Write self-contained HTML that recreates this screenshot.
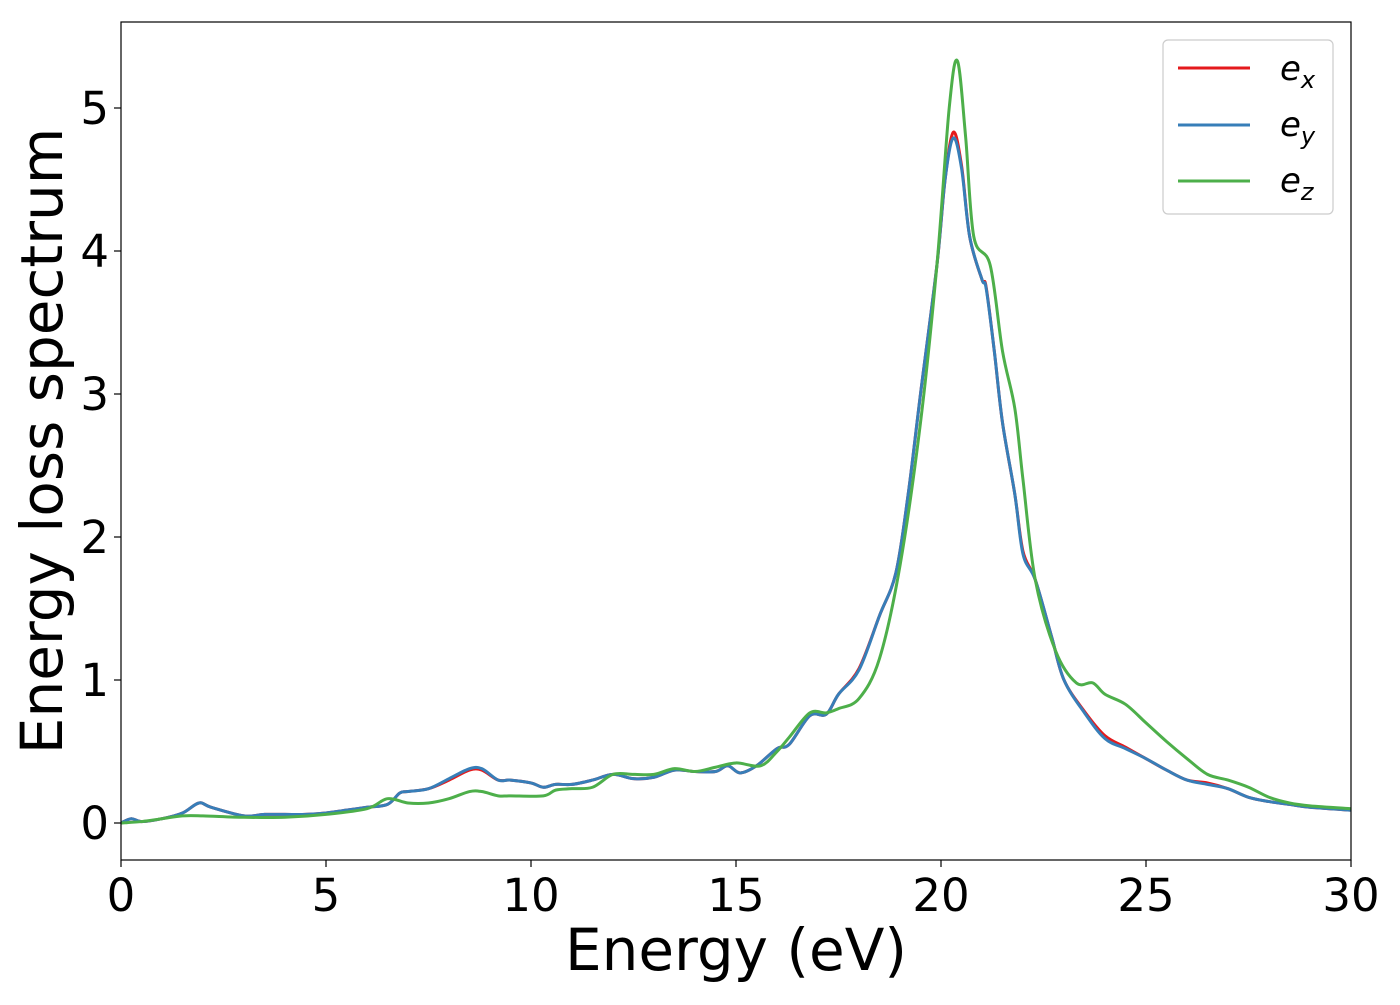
<!DOCTYPE html>
<html><head><meta charset="utf-8"><style>
body{margin:0;background:#fff;}
svg{font-family:"DejaVu Sans","Liberation Sans",sans-serif;}
</style></head><body>
<svg id="chart" width="1400" height="1000">
<rect x="0" y="0" width="1400" height="1000" fill="#fff"/>
<g id="plot"></g>
<g id="axes"></g>
</svg>
<script>
const exE=[0,0.25,0.5,1,1.5,1.9,2.2,3,3.5,4,4.5,5,5.5,6,6.5,6.8,7,7.5,8,8.5,8.8,9.2,9.5,10,10.3,10.6,11,11.5,12,12.5,13,13.5,14,14.5,14.8,15.1,15.5,16,16.3,16.8,17.2,17.5,18,18.5,18.9,19.2,19.5,19.9,20.1,20.3,20.5,20.7,21,21.1,21.3,21.5,21.8,22,22.3,22.7,23,23.5,24,24.5,25,25.5,26,26.5,27,27.5,28,28.5,29,30];
const exV=[0,0.03,0.01,0.03,0.07,0.14,0.11,0.05,0.06,0.06,0.06,0.07,0.09,0.11,0.13,0.21,0.22,0.24,0.3,0.37,0.37,0.3,0.3,0.28,0.25,0.27,0.27,0.3,0.34,0.31,0.32,0.37,0.36,0.36,0.4,0.35,0.4,0.52,0.55,0.75,0.76,0.9,1.08,1.45,1.75,2.3,3.0,3.9,4.5,4.83,4.6,4.1,3.8,3.75,3.3,2.8,2.3,1.9,1.7,1.3,1.0,0.78,0.61,0.53,0.45,0.37,0.3,0.28,0.24,0.18,0.15,0.13,0.11,0.09];
const eyV=[0,0.03,0.01,0.03,0.07,0.14,0.11,0.05,0.06,0.06,0.06,0.07,0.09,0.11,0.13,0.21,0.22,0.24,0.31,0.38,0.38,0.3,0.3,0.28,0.25,0.27,0.27,0.3,0.34,0.31,0.32,0.37,0.36,0.36,0.4,0.35,0.4,0.52,0.55,0.75,0.76,0.9,1.07,1.45,1.75,2.3,3.0,3.9,4.5,4.79,4.58,4.1,3.8,3.74,3.3,2.8,2.3,1.88,1.7,1.3,1.0,0.77,0.59,0.52,0.45,0.37,0.3,0.27,0.24,0.18,0.15,0.13,0.11,0.09];
const ezE=[0,0.5,1,1.5,2,3,4,5,6,6.5,7,7.5,8,8.5,8.8,9.2,9.5,10.3,10.6,11,11.5,12,12.5,13,13.5,14,14.5,15,15.6,16,16.3,16.8,17.2,17.5,18,18.5,19,19.5,19.9,20.2,20.4,20.6,20.8,21.2,21.5,21.8,22,22.3,22.8,23.3,23.7,24,24.5,25,25.5,26,26.5,27,27.5,28,28.5,29,30];
const ezV=[0,0.01,0.03,0.05,0.05,0.04,0.04,0.06,0.1,0.17,0.14,0.14,0.17,0.22,0.22,0.19,0.19,0.19,0.23,0.24,0.25,0.34,0.34,0.34,0.38,0.36,0.39,0.42,0.4,0.5,0.6,0.77,0.77,0.8,0.87,1.15,1.8,2.8,3.9,5.0,5.33,4.8,4.1,3.9,3.3,2.9,2.4,1.7,1.2,0.98,0.98,0.9,0.83,0.7,0.57,0.45,0.34,0.3,0.25,0.18,0.14,0.12,0.1];
const xTicks=[0,5,10,15,20,25,30];
const yTicks=[0,1,2,3,4,5];
const L=121,R=1351,T=22,B=860;
const X=v=>L+(v-0)/30*(R-L);
const Y=v=>823-v*143;
const NS='http://www.w3.org/2000/svg';
const plot=document.getElementById('plot'),axes=document.getElementById('axes');
function mk(tag,attrs,parent){const e=document.createElementNS(NS,tag);for(const k in attrs)e.setAttribute(k,attrs[k]);parent.appendChild(e);return e;}
function smooth(pts){
  let d='M'+pts[0][0]+','+pts[0][1];
  for(let i=0;i<pts.length-1;i++){
    const p0=pts[Math.max(0,i-1)],p1=pts[i],p2=pts[i+1],p3=pts[Math.min(pts.length-1,i+2)];
    const c1x=p1[0]+(p2[0]-p0[0])/6,c1y=p1[1]+(p2[1]-p0[1])/6;
    const c2x=p2[0]-(p3[0]-p1[0])/6,c2y=p2[1]-(p3[1]-p1[1])/6;
    d+=' C'+c1x+','+c1y+' '+c2x+','+c2y+' '+p2[0]+','+p2[1];
  }
  return d;
}
function line(xs,ys,color,name){
  const p=mk('path',{d:smooth(xs.map((x,i)=>[X(x),Y(ys[i])])),fill:'none',stroke:color,'stroke-width':3,'stroke-linejoin':'round'},plot);
  
  
}
line(exE,exV,'#e41a1c','series-ex');
line(exE,eyV,'#377eb8','series-ey');
line(ezE,ezV,'#4daf4a','series-ez');
const frame=mk('rect',{x:L,y:T,width:R-L,height:B-T,fill:'none',stroke:'#000','stroke-width':1.2},axes);


xTicks.forEach(t=>{
  mk('line',{x1:X(t),x2:X(t),y1:B,y2:B+7,stroke:'#000','stroke-width':1.2},axes);
  const tx=mk('text',{x:X(t),y:B+51,'text-anchor':'middle','font-size':45},axes);
  tx.textContent=t;
  
  
});
yTicks.forEach(t=>{
  mk('line',{x1:L-7,x2:L,y1:Y(t),y2:Y(t),stroke:'#000','stroke-width':1.2},axes);
  const tx=mk('text',{x:L-12,y:Y(t)+16,'text-anchor':'end','font-size':45},axes);
  tx.textContent=t;
  
  
});
</script>
<svg style="position:absolute;left:0;top:0" width="1400" height="1000">
<text x="736" y="970" text-anchor="middle" font-size="58" font-family="DejaVu Sans,Liberation Sans,sans-serif">Energy (eV)</text>
<text transform="translate(62,441) rotate(-90)" text-anchor="middle" font-size="58" font-family="DejaVu Sans,Liberation Sans,sans-serif">Energy loss spectrum</text>
<g font-family="DejaVu Sans,Liberation Sans,sans-serif">
<rect x="1163" y="40" width="170" height="174" rx="5" fill="#fff" fill-opacity="0.8" stroke="#ccc" stroke-width="1.2"/>
<line x1="1178" y1="68" x2="1250" y2="68" stroke="#e41a1c" stroke-width="3"/>
<line x1="1178" y1="125" x2="1250" y2="125" stroke="#377eb8" stroke-width="3"/>
<line x1="1178" y1="181" x2="1250" y2="181" stroke="#4daf4a" stroke-width="3"/>
<text x="1280" y="80" font-size="34" font-style="italic">e<tspan font-size="24" dy="8">x</tspan></text>
<text x="1280" y="136" font-size="34" font-style="italic">e<tspan font-size="24" dy="8">y</tspan></text>
<text x="1280" y="192" font-size="34" font-style="italic">e<tspan font-size="24" dy="8">z</tspan></text>
</g>
</svg>
</body></html>
